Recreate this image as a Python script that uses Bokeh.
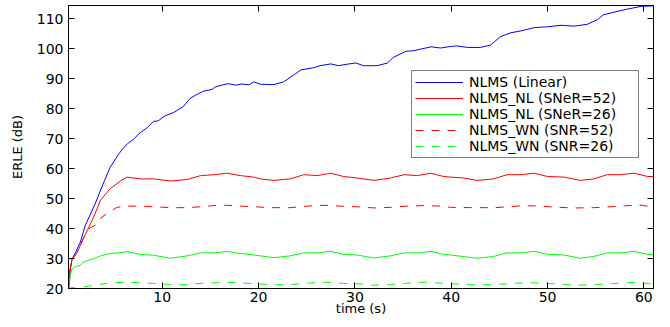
from bokeh.plotting import figure
from bokeh.models import Range1d, LinearAxis, FixedTicker
from bokeh.embed import file_html
from bokeh.resources import INLINE

# ---- data ----
x_ticks = [10, 20, 30, 40, 50, 60]
y_ticks = [20, 30, 40, 50, 60, 70, 80, 90, 100, 110]

t_lin = [0.27, 0.45, 0.64, 1.0, 1.5, 2.0, 2.5, 3.0, 3.5, 4.0, 4.6, 5.0, 5.5, 6.0, 6.4, 7.0,
         7.7, 8.4, 9.1, 9.6, 10.2, 11.2, 12.2, 12.9, 13.6, 14.3, 15.2, 15.5, 16.4, 16.9,
         17.6, 18.3, 19.0, 19.5, 20.2, 21.6, 22.6, 23.7, 24.4, 25.7, 26.4, 27.5, 28.3,
         29.2, 30.1, 30.9, 32.3, 33.4, 34.0, 35.3, 36.1, 36.8, 37.9, 38.9, 39.9, 40.6,
         41.7, 43.0, 44.1, 45.1, 46.2, 47.2, 48.6, 50.0, 51.4, 52.7, 54.1, 55.2, 55.8,
         57.2, 58.3, 59.7, 61.0]
erle_lin = [20, 26.5, 29.8, 32, 35.5, 41, 44.5, 48, 52, 56, 60.5, 62.5, 65, 67, 68.4, 69.8,
            72, 73.6, 75.8, 76, 77.5, 78.8, 80.8, 83.5, 84.8, 85.9, 86.5, 87.3, 88.1, 88.4,
            87.9, 88.3, 88.0, 89.0, 88.2, 88.1, 89.0, 91.4, 93.0, 93.7, 94.4, 95.0, 94.4,
            94.9, 95.3, 94.4, 94.4, 95.3, 97.2, 99.2, 99.4, 99.9, 100.7, 100.3, 100.8, 101.0,
            100.5, 100.5, 101.3, 104.1, 105.4, 106.0, 107.1, 107.4, 107.9, 107.6, 108.2,
            109.8, 111.4, 112.5, 113.3, 114.2, 114.4]

t_nl52 = [0.27, 0.45, 0.64, 1.16, 1.85, 2.9, 3.6, 4.6, 5.7, 6.35, 7.7, 9.1, 10.85, 12.6,
          14.0, 15.4, 16.7, 18.1, 19.5, 20.2, 21.6, 23.3, 24.7, 26.1, 27.5, 28.8, 30.2,
          32.0, 33.7, 35.1, 36.5, 37.9, 39.2, 39.9, 41.3, 42.7, 44.4, 45.8, 47.2, 48.6,
          50.0, 51.7, 53.4, 54.8, 56.2, 57.6, 59.0, 60.4, 61.0]
erle_nl52 = [20, 26.5, 29.8, 32, 36.9, 44, 49.5, 53.3, 56, 57.2, 56.6, 56.6, 55.9, 56.4,
             57.7, 58, 58.5, 57.7, 57.2, 56.6, 56.1, 56.6, 58, 57.7, 58.5, 57.4, 56.9,
             56.1, 56.9, 58, 57.7, 58.5, 57.4, 57.2, 56.9, 56.1, 56.6, 58, 58, 58.5,
             57.4, 57.2, 56.1, 56.6, 58, 58, 58.5, 57.4, 57.4]

t_nl26 = [0.27, 0.5, 0.64, 1.0, 1.5, 1.85, 2.9, 3.6, 4.6, 5.7, 6.35, 7.7, 9.1, 10.85,
          12.6, 14.0, 15.4, 16.7, 18.1, 19.5, 21.6, 23.3, 24.7, 26.1, 27.5, 28.8, 30.2,
          32.0, 33.7, 35.1, 36.5, 37.9, 39.2, 39.9, 42.7, 44.4, 45.8, 47.2, 48.6, 50.0,
          51.7, 53.4, 54.8, 56.2, 57.6, 59.0, 60.4, 61.0]
erle_nl26 = [20, 25, 26.5, 27.4, 27.7, 28.9, 30, 30.9, 31.7, 32, 32.3, 31.4, 31.1, 30.1,
             30.9, 31.9, 31.9, 32.4, 31.7, 31.2, 30.3, 30.9, 31.9, 31.9, 32.4, 31.4, 31.2,
             30.2, 30.9, 31.9, 31.9, 32.4, 31.4, 31.2, 30.1, 30.7, 31.9, 31.9, 32.4, 31.4,
             31.2, 30.1, 30.7, 31.9, 31.9, 32.4, 31.4, 31.3]

t_wn52 = [0.27, 0.45, 0.64, 1.16, 1.85, 2.5, 3.2, 3.6, 4.3, 5.3, 6.35, 7.7, 9.1, 10.85,
          12.6, 14.0, 15.4, 16.7, 18.1, 19.5, 21.2, 23.3, 25.0, 26.8, 28.5, 30.2, 32.0,
          33.7, 35.5, 37.2, 38.9, 39.9, 42.3, 44.4, 46.1, 47.5, 49.3, 51.0, 53.1, 54.8,
          56.6, 58.0, 59.5, 60.7, 61.0]
erle_wn52 = [20, 26.5, 29.8, 32, 37, 40.3, 41.3, 43.5, 45.1, 47.1, 47.5, 47.5, 47.3, 47,
             47, 47.3, 47.7, 47.8, 47.5, 47.3, 47, 47, 47.5, 47.8, 47.5, 47.3, 46.9,
             47.1, 47.5, 47.7, 47.5, 47.1, 47, 47, 47.3, 47.7, 47.5, 47.1, 46.9, 47,
             47.3, 47.6, 47.9, 47.3, 47.2]

t_wn26 = [0.27, 0.6, 1.0, 1.5, 2.0, 2.5, 3.5, 4.6, 6.35, 7.7, 9.1, 10.85, 12.6, 14.0,
          15.4, 16.7, 18.1, 19.5, 21.2, 23.3, 25.0, 27.1, 28.8, 30.2, 32.0, 33.7, 35.5,
          37.2, 38.9, 39.9, 42.0, 44.4, 46.1, 47.9, 49.3, 51.0, 53.1, 54.8, 56.6, 58.3,
          59.7, 60.7, 61.0]
erle_wn26 = [20, 20.4, 20.1, 20.0, 20.6, 20.9, 21.3, 21.9, 22.1, 21.9, 21.7, 21.3, 21.3,
             21.7, 21.9, 22.1, 21.9, 21.6, 21.3, 21.3, 21.8, 22.1, 21.7, 21.6, 21.1, 21.3,
             21.8, 22.1, 21.8, 21.6, 21.3, 21.3, 21.6, 22.0, 21.8, 21.5, 21.1, 21.3, 21.6,
             22.0, 22.0, 21.5, 21.5]

labels = ["NLMS (Linear)", "NLMS_NL (SNeR=52)", "NLMS_NL (SNeR=26)",
          "NLMS_WN (SNR=52)", "NLMS_WN (SNR=26)"]

FONT = "DejaVu Sans"

p = figure(width=654, height=319, output_backend="svg", toolbar_location=None,
           x_range=Range1d(0.27, 61.0), y_range=Range1d(20, 114.5),
           min_border_left=68, min_border_right=1, min_border_top=5, min_border_bottom=31,
           background_fill_color="white", border_fill_color="white")
p.grid.visible = False
p.outline_line_color = "black"
p.outline_line_width = 1

p.line(t_lin, erle_lin, line_color="blue", line_alpha=1.0, line_width=1, legend_label=labels[0])
p.line(t_nl52, erle_nl52, line_color="red", line_alpha=1.0, line_width=1, legend_label=labels[1])
p.line(t_nl26, erle_nl26, line_color="lime", line_alpha=1.0, line_width=1, legend_label=labels[2])
p.line(t_wn52, erle_wn52, line_color="red", line_alpha=1.0, line_width=1, line_dash="8 8",
       legend_label=labels[3])
p.line(t_wn26, erle_wn26, line_color="lime", line_alpha=1.0, line_width=1, line_dash="8 8",
       legend_label=labels[4])

for ax in (p.xaxis[0], p.yaxis[0]):
    ax.major_tick_in = 6
    ax.major_tick_out = 0
    ax.minor_tick_line_color = None
    ax.axis_line_color = "black"
    ax.major_tick_line_color = "black"
    ax.major_label_text_font = FONT
    ax.major_label_text_font_size = "14px"
    ax.major_label_text_color = "black"
    ax.axis_label_text_font = FONT
    ax.axis_label_text_font_size = "13px"
    ax.axis_label_text_font_style = "normal"
    ax.axis_label_text_color = "black"

p.xaxis[0].ticker = FixedTicker(ticks=x_ticks)
p.yaxis[0].ticker = FixedTicker(ticks=y_ticks)
p.xaxis[0].axis_label = "time (s)"
p.yaxis[0].axis_label = "ERLE (dB)"
p.xaxis[0].major_label_standoff = 3
p.xaxis[0].axis_label_standoff = -4
p.yaxis[0].major_label_standoff = 5
p.yaxis[0].axis_label_standoff = 9

top = LinearAxis(ticker=FixedTicker(ticks=x_ticks),
                 major_label_overrides={t: "" for t in x_ticks},
                 major_tick_in=6, major_tick_out=0, minor_tick_line_color=None,
                 axis_line_color="black", major_tick_line_color="black",
                 major_label_standoff=0)
right = LinearAxis(ticker=FixedTicker(ticks=y_ticks),
                   major_label_overrides={t: "" for t in y_ticks},
                   major_tick_in=6, major_tick_out=0, minor_tick_line_color=None,
                   axis_line_color="black", major_tick_line_color="black",
                   major_label_standoff=0)
p.add_layout(top, "above")
p.add_layout(right, "right")

lg = p.legend[0]
lg.location = (343, 130)
lg.border_line_color = "black"
lg.border_line_width = 1
lg.background_fill_color = "white"
lg.background_fill_alpha = 1
lg.label_text_font = FONT
lg.label_text_font_size = "14px"
lg.label_text_color = "black"
lg.glyph_width = 48
lg.glyph_height = 16
lg.label_height = 16
lg.label_width = 166
lg.label_standoff = 6
lg.spacing = 0
lg.padding = 3
lg.margin = 0

open("out.html", "w").write(file_html(p, INLINE))
